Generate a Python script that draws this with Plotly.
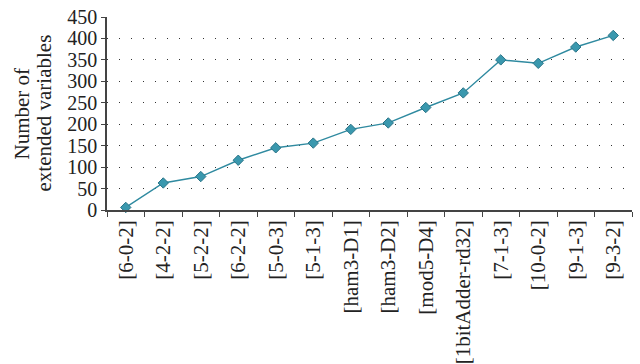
import plotly.graph_objects as go

categories = ["[6-0-2]", "[4-2-2]", "[5-2-2]", "[6-2-2]", "[5-0-3]", "[5-1-3]",
              "[ham3-D1]", "[ham3-D2]", "[mod5-D4]", "[1bitAdder-rd32]",
              "[7-1-3]", "[10-0-2]", "[9-1-3]", "[9-3-2]"]
extended_vars = [6, 63, 78, 116, 145, 156, 188, 203, 239, 273, 350, 342, 380, 407]
y_ticks = [0, 50, 100, 150, 200, 250, 300, 350, 400, 450]
y_title_lines = ["Number of", "extended variables"]

font_family = "Liberation Serif, Times New Roman, serif"
text_color = "#222222"

fig = go.Figure(go.Scatter(
    x=categories,
    y=extended_vars,
    mode="lines+markers",
    line=dict(color="#2f8aa0", width=1.4),
    marker=dict(symbol="diamond", size=8, color="#3a98ae",
                line=dict(color="#2a7488", width=1)),
    cliponaxis=False,
))

fig.update_layout(
    width=640, height=364,
    margin=dict(l=107, r=8, t=17, b=154),
    paper_bgcolor="white", plot_bgcolor="white",
    showlegend=False,
    font=dict(family=font_family, color=text_color),
    xaxis=dict(
        type="category",
        range=[-0.5, len(categories) - 0.5],
        tickson="boundaries",
        ticks="outside", ticklen=5, tickcolor="#444444", tickwidth=1,
        showline=True, linecolor="#444444", linewidth=1.5,
        showgrid=False,
        tickangle=-90,
        automargin=False,
        tickfont=dict(size=21, family=font_family, color=text_color),
    ),
    yaxis=dict(
        range=[0, 450],
        tickvals=y_ticks,
        ticks="outside", ticklen=4, tickcolor="#444444", tickwidth=1,
        showline=True, linecolor="#444444", linewidth=1.5,
        showgrid=True, gridcolor="#333333", gridwidth=1.2,
        griddash="1px,11px",
        zeroline=False,
        automargin=False,
        tickfont=dict(size=20, family=font_family, color=text_color),
    ),
)

# Two-line y-axis title, each line placed separately for tight line spacing
for shift, line in zip([-86, -64], y_title_lines):
    fig.add_annotation(
        text=line, textangle=-90,
        xref="paper", yref="paper", x=0, y=0.5,
        xanchor="center", yanchor="middle", xshift=shift,
        showarrow=False,
        font=dict(size=21, family=font_family, color=text_color),
    )

fig.write_html("out.html")
